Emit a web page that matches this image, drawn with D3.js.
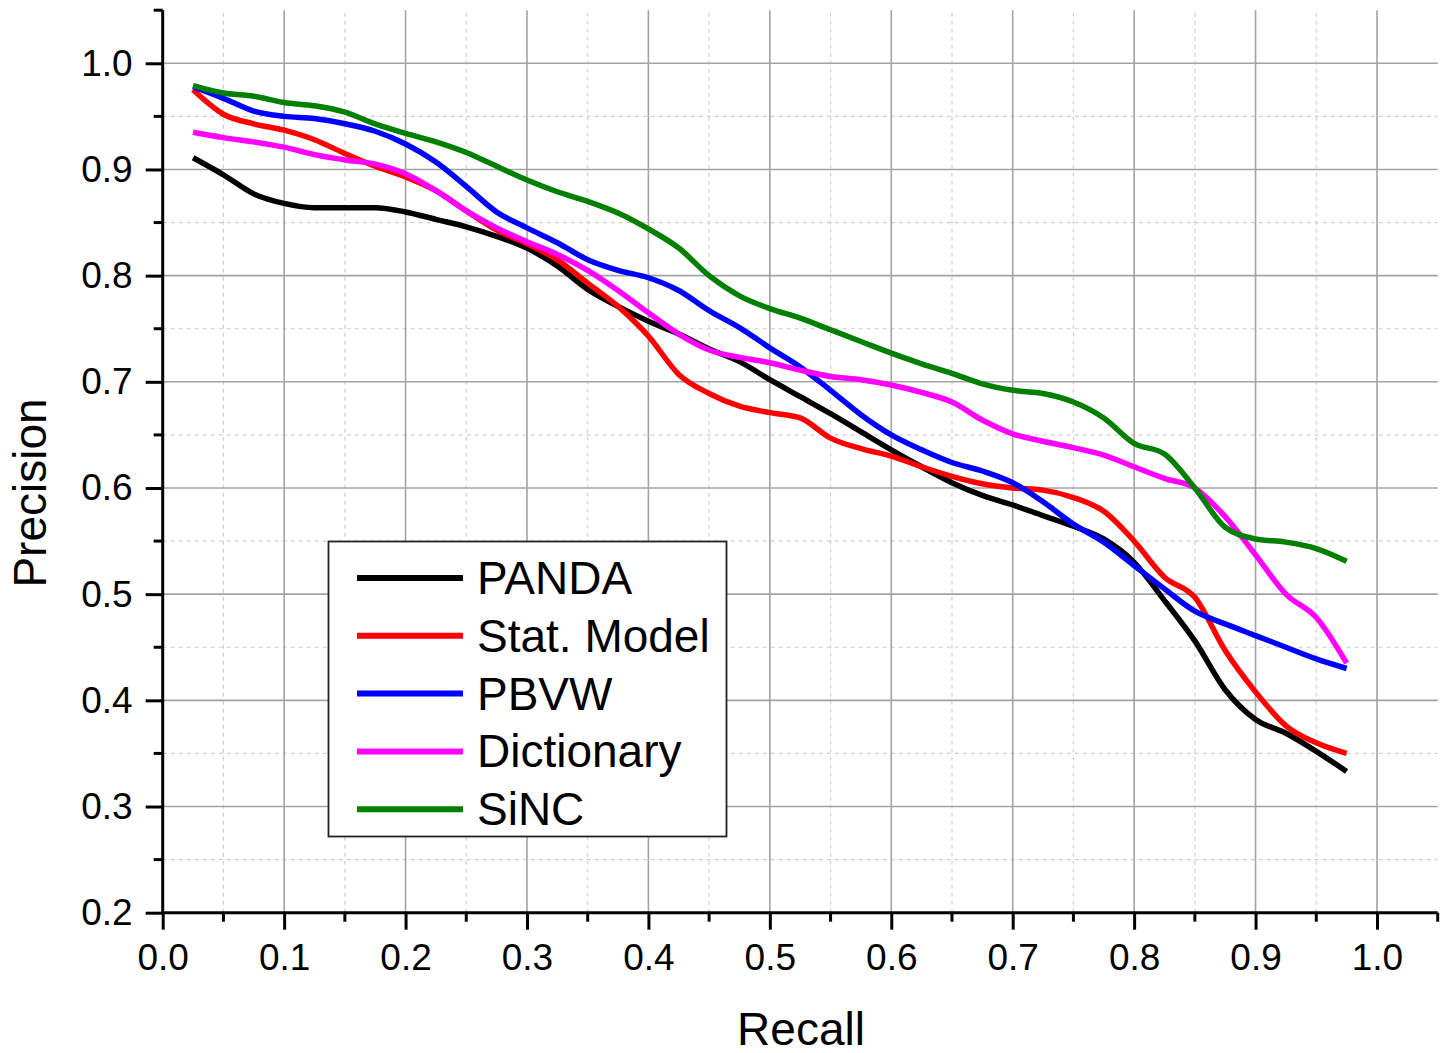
<!DOCTYPE html>
<html>
<head>
<meta charset="utf-8">
<script src="https://cdn.jsdelivr.net/npm/d3@7"></script>
<style>
  html, body { margin: 0; padding: 0; background: #fff; }
  svg text { font-family: "Liberation Sans", Arial, sans-serif; fill: #000; }
</style>
</head>
<body>
<svg id="chart" width="1450" height="1053"></svg>
<script>
// Recall sample positions shared by every curve
const recall = [0.025, 0.05, 0.075, 0.1, 0.125, 0.15, 0.175, 0.2, 0.225, 0.25,
  0.275, 0.3, 0.325, 0.35, 0.375, 0.4, 0.425, 0.45, 0.475, 0.5,
  0.525, 0.55, 0.575, 0.6, 0.625, 0.65, 0.675, 0.7, 0.725, 0.75,
  0.775, 0.8, 0.825, 0.85, 0.875, 0.9, 0.925, 0.95, 0.975];

const seriesNames = ["PANDA", "Stat. Model", "PBVW", "Dictionary", "SiNC"];
const seriesColors = ["#000000", "#ff0000", "#0000ff", "#ff00ff", "#007f00"];

const pandaPrecision = [0.911, 0.895, 0.877, 0.868, 0.864, 0.864, 0.864, 0.860, 0.853, 0.846,
  0.837, 0.826, 0.809, 0.787, 0.771, 0.757, 0.745, 0.731, 0.719, 0.702,
  0.686, 0.670, 0.653, 0.636, 0.620, 0.605, 0.593, 0.584, 0.574, 0.564,
  0.552, 0.530, 0.494, 0.456, 0.410, 0.382, 0.369, 0.352, 0.333];

const statModelPrecision = [0.975, 0.952, 0.943, 0.937, 0.928, 0.915, 0.903, 0.893, 0.880, 0.861,
  0.843, 0.830, 0.815, 0.793, 0.771, 0.743, 0.707, 0.689, 0.677, 0.671,
  0.666, 0.647, 0.637, 0.630, 0.620, 0.611, 0.604, 0.600, 0.598, 0.591,
  0.578, 0.550, 0.516, 0.497, 0.447, 0.408, 0.376, 0.360, 0.350];

const pbvwPrecision = [0.978, 0.967, 0.955, 0.950, 0.948, 0.943, 0.936, 0.924, 0.907, 0.884,
  0.860, 0.845, 0.831, 0.815, 0.805, 0.798, 0.786, 0.767, 0.751, 0.732,
  0.714, 0.692, 0.669, 0.650, 0.636, 0.624, 0.616, 0.605, 0.587, 0.566,
  0.549, 0.527, 0.505, 0.484, 0.472, 0.461, 0.450, 0.439, 0.430];

const dictionaryPrecision = [0.935, 0.930, 0.926, 0.921, 0.914, 0.909, 0.905, 0.896, 0.880, 0.861,
  0.845, 0.832, 0.820, 0.805, 0.786, 0.765, 0.745, 0.730, 0.723, 0.718,
  0.711, 0.705, 0.702, 0.697, 0.690, 0.681, 0.664, 0.651, 0.644, 0.638,
  0.631, 0.620, 0.609, 0.600, 0.573, 0.537, 0.500, 0.478, 0.435];

const sincPrecision = [0.979, 0.972, 0.969, 0.963, 0.960, 0.954, 0.943, 0.934, 0.926, 0.916,
  0.903, 0.890, 0.879, 0.870, 0.859, 0.844, 0.826, 0.800, 0.781, 0.769,
  0.760, 0.749, 0.738, 0.727, 0.717, 0.708, 0.698, 0.692, 0.689, 0.681,
  0.666, 0.642, 0.632, 0.600, 0.563, 0.552, 0.549, 0.543, 0.531];

const seriesValues = [pandaPrecision, statModelPrecision, pbvwPrecision, dictionaryPrecision, sincPrecision];

const xMajorTicks = [0.0, 0.1, 0.2, 0.3, 0.4, 0.5, 0.6, 0.7, 0.8, 0.9, 1.0];
const xMinorTicks = [0.05, 0.15, 0.25, 0.35, 0.45, 0.55, 0.65, 0.75, 0.85, 0.95, 1.05];
const yMajorTicks = [0.2, 0.3, 0.4, 0.5, 0.6, 0.7, 0.8, 0.9, 1.0];
const yMinorTicks = [0.25, 0.35, 0.45, 0.55, 0.65, 0.75, 0.85, 0.95, 1.05];

const svg = d3.select("#chart");

const x = d3.scaleLinear().domain([0, 1.05]).range([162.7, 1437.7]);
const y = d3.scaleLinear().domain([0.2, 1.05]).range([912.7, 10.2]);

// grid: dashed minor lines, solid major lines
const grid = svg.append("g");
grid.selectAll("line.vminor").data(xMinorTicks.filter(v => v < 1.0)).join("line")
  .attr("x1", d => x(d)).attr("x2", d => x(d))
  .attr("y1", y(0.2)).attr("y2", y(1.05))
  .attr("stroke", "#cfcfcf").attr("stroke-width", 1.2).attr("stroke-dasharray", "4,4");
grid.selectAll("line.hminor").data(yMinorTicks.filter(v => v < 1.0)).join("line")
  .attr("y1", d => y(d)).attr("y2", d => y(d))
  .attr("x1", x(0)).attr("x2", x(1.05))
  .attr("stroke", "#cfcfcf").attr("stroke-width", 1.2).attr("stroke-dasharray", "4,4");
grid.selectAll("line.vmajor").data(xMajorTicks.filter(v => v > 0)).join("line")
  .attr("x1", d => x(d)).attr("x2", d => x(d))
  .attr("y1", y(0.2)).attr("y2", y(1.05))
  .attr("stroke", "#a3a3a3").attr("stroke-width", 1.6);
grid.selectAll("line.hmajor").data(yMajorTicks.filter(v => v > 0.2)).join("line")
  .attr("y1", d => y(d)).attr("y2", d => y(d))
  .attr("x1", x(0)).attr("x2", x(1.05))
  .attr("stroke", "#a3a3a3").attr("stroke-width", 1.6);

// curves
const line = d3.line()
  .x((d, i) => x(recall[i]))
  .y(d => y(d))
  .curve(d3.curveMonotoneX);

svg.append("g").selectAll("path").data(seriesValues).join("path")
  .attr("d", d => line(d))
  .attr("fill", "none")
  .attr("stroke", (d, i) => seriesColors[i])
  .attr("stroke-width", 5.5)
  .attr("stroke-linejoin", "round");

// axes
const xAxis = svg.append("g").attr("transform", `translate(0,${y(0.2)})`);
xAxis.call(d3.axisBottom(x).tickValues(xMajorTicks).tickSize(17).tickPadding(14)
  .tickFormat(d3.format(".1f")));
xAxis.append("g").selectAll("line").data(xMinorTicks).join("line")
  .attr("x1", d => x(d)).attr("x2", d => x(d)).attr("y1", 0).attr("y2", 9)
  .attr("stroke", "#000").attr("stroke-width", 3);

const yAxis = svg.append("g").attr("transform", `translate(${x(0)},0)`);
yAxis.call(d3.axisLeft(y).tickValues(yMajorTicks).tickSize(17).tickPadding(13)
  .tickFormat(d3.format(".1f")));
yAxis.append("g").selectAll("line").data(yMinorTicks).join("line")
  .attr("y1", d => y(d)).attr("y2", d => y(d)).attr("x1", 0).attr("x2", -9)
  .attr("stroke", "#000").attr("stroke-width", 3);

[xAxis, yAxis].forEach(a => {
  a.select(".domain").attr("stroke", "#000").attr("stroke-width", 3);
  a.selectAll(".tick line").attr("stroke", "#000").attr("stroke-width", 3);
  a.selectAll(".tick text").attr("font-size", 37)
    .attr("font-family", "'Liberation Sans', Arial, sans-serif").attr("fill", "#000");
});
// straight domain paths without outer tick hooks
xAxis.select(".domain").attr("d", `M${x(0)},0H${x(1.05)}`);
yAxis.select(".domain").attr("d", `M0,${y(0.2)}V${y(1.05)}`);

// axis titles
svg.append("text").attr("x", 801).attr("y", 1045)
  .attr("text-anchor", "middle").attr("font-size", 46).text("Recall");
svg.append("text").attr("transform", "translate(46,493) rotate(-90)")
  .attr("text-anchor", "middle").attr("font-size", 46).text("Precision");

// legend
const legend = svg.append("g");
legend.append("rect").attr("x", 328.5).attr("y", 541.5).attr("width", 398).attr("height", 295)
  .attr("fill", "#fff").attr("stroke", "#222").attr("stroke-width", 1.8);
const rows = legend.selectAll("g.row").data(seriesNames).join("g")
  .attr("transform", (d, i) => `translate(0,${578 + i * 57.8})`);
rows.append("line").attr("x1", 357).attr("x2", 463).attr("y1", 0).attr("y2", 0)
  .attr("stroke", (d, i) => seriesColors[i]).attr("stroke-width", 6);
rows.append("text").attr("x", 477).attr("y", 16).attr("font-size", 46).text(d => d);
</script>
</body>
</html>
